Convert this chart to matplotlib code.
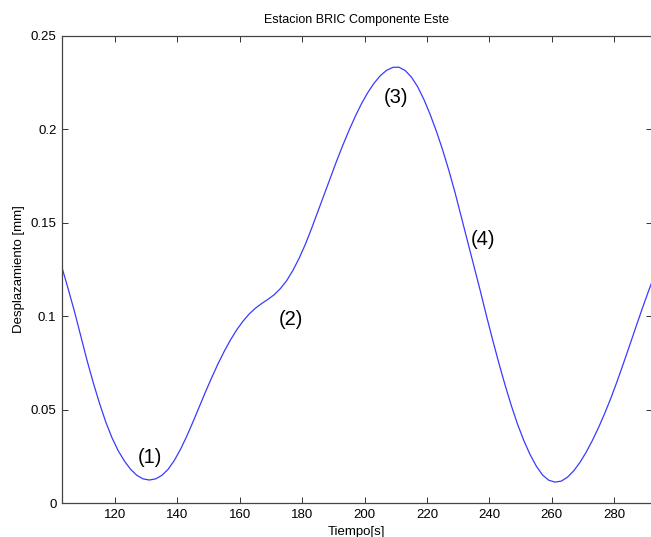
import numpy as np
import matplotlib
matplotlib.use("Agg")
import matplotlib.pyplot as plt

plt.rcParams['font.family'] = ['Liberation Sans', 'DejaVu Sans']

# valores
tiempo = [103, 105, 107, 109, 111, 113, 115, 117, 119, 121, 123, 125, 127, 129,
          131, 133, 135, 137, 139, 141, 143, 145, 147, 149, 151, 153, 155, 157,
          159, 161, 163, 165, 167, 169, 171, 173, 175, 177, 179, 181, 183, 185,
          187, 189, 191, 193, 195, 197, 199, 201, 203, 205, 207, 209, 211, 213,
          215, 217, 219, 221, 223, 225, 227, 229, 231, 233, 235, 237, 239, 241,
          243, 245, 247, 249, 251, 253, 255, 257, 259, 261, 263, 265, 267, 269,
          271, 273, 275, 277, 279, 281, 283, 285, 287, 289, 291, 292]
desp = [0.126, 0.1145, 0.1025, 0.0895, 0.0765, 0.0645, 0.0535, 0.0435, 0.035, 0.028,
        0.0225, 0.018, 0.0148, 0.0129, 0.0123, 0.0129, 0.0148, 0.018, 0.0228, 0.0288,
        0.0358, 0.0435, 0.0515, 0.0595, 0.0672, 0.0745, 0.0812, 0.0873, 0.0927, 0.0973,
        0.1012, 0.1043, 0.1068, 0.109, 0.1115, 0.1148, 0.119, 0.1245, 0.131, 0.1385,
        0.147, 0.156, 0.165, 0.174, 0.183, 0.1915, 0.1995, 0.207, 0.2138, 0.2197,
        0.2247, 0.2287, 0.2316, 0.2332, 0.2333, 0.2315, 0.228, 0.2228, 0.216, 0.208,
        0.199, 0.189, 0.178, 0.166, 0.153, 0.140, 0.127, 0.114, 0.1005, 0.0875,
        0.075, 0.0632, 0.0522, 0.0422, 0.0335, 0.026, 0.0198, 0.015, 0.0122, 0.0112,
        0.0117, 0.0138, 0.0172, 0.0217, 0.0272, 0.0335, 0.0405, 0.0482, 0.0565, 0.0655,
        0.075, 0.0847, 0.0945, 0.1042, 0.1135, 0.118]

etiquetas = ['(1)', '(2)', '(3)', '(4)']
etq_x = [131.2, 176.5, 210.0, 237.9]
etq_y = [0.0246, 0.098, 0.2173, 0.1408]

xticks = [120, 140, 160, 180, 200, 220, 240, 260, 280]
yticks = [0, 0.05, 0.1, 0.15, 0.2, 0.25]
ytick_labels = ['0', '0.05', '0.1', '0.15', '0.2', '0.25']

fig = plt.figure(figsize=(6.51, 5.37), dpi=100)
ax = fig.add_axes([62/651, 34/537, 590/651, 467/537])

ax.plot(tiempo, desp, color='#3a3aff', linewidth=0.9, solid_joinstyle='round')

for t, x, y in zip(etiquetas, etq_x, etq_y):
    ax.text(x, y, t, fontsize=14.5, ha='center', va='center')

ax.set_xlim(103, 292.1)
ax.set_ylim(0, 0.25)
ax.set_xticks(xticks)
ax.set_yticks(yticks)
ax.set_yticklabels(ytick_labels)
ax.tick_params(direction='in', top=True, right=True, labelsize=9.5, length=4,
               width=0.7, color='#333333', pad=4)
for s in ax.spines.values():
    s.set_color('#444444')
    s.set_linewidth(0.9)

ax.set_title('Estacion BRIC Componente Este', fontsize=9, pad=9)
ax.set_xlabel('Tiempo[s]', fontsize=9.5, labelpad=4)
ax.set_ylabel('Desplazamiento [mm]', fontsize=9.5, labelpad=4)

fig.savefig('out.png', dpi=100)
